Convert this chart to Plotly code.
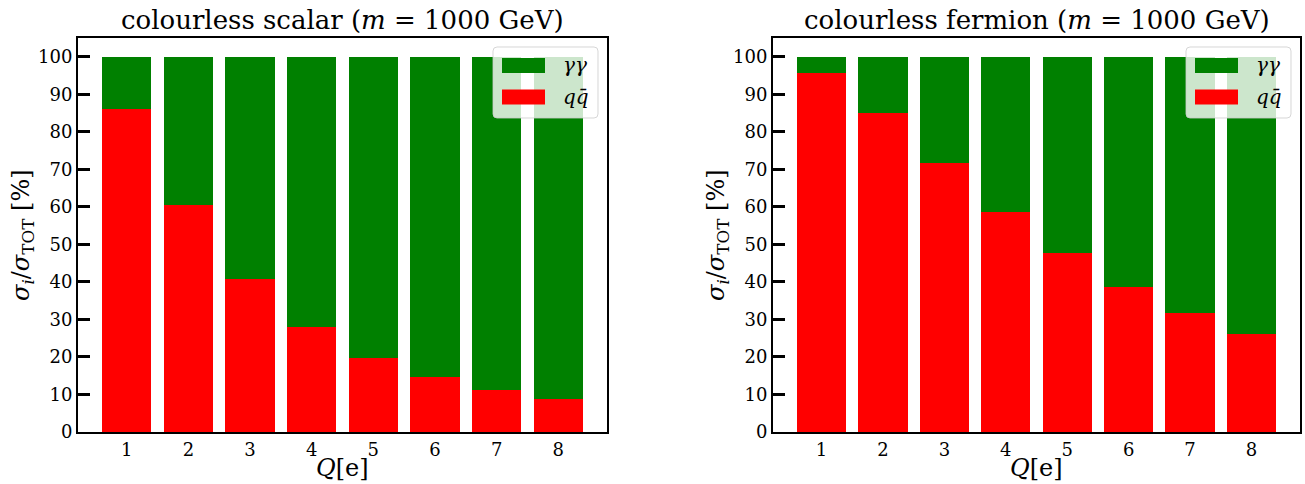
import plotly.graph_objects as go

# ---- data ----
charges = [1, 2, 3, 4, 5, 6, 7, 8]
tick_labels = ["1", "2", "3", "4", "5", "6", "7", "8"]
scalar_qq = [86.1, 60.6, 40.8, 28.0, 19.6, 14.7, 11.1, 8.8]
fermion_qq = [95.7, 85.1, 71.7, 58.6, 47.7, 38.7, 31.7, 26.0]
scalar_aa = [100 - v for v in scalar_qq]
fermion_aa = [100 - v for v in fermion_qq]
titles = ["colourless scalar (<i>m</i> = 1000 GeV)",
          "colourless fermion (<i>m</i> = 1000 GeV)"]
x_title = "<i>Q</i>[e]"
y_title = "<i>σ</i><sub><i>i</i></sub>/<i>σ</i><sub>TOT</sub> [%]"
legend_labels = ["<i>γγ</i>", "<i>qq̄</i>"]
y_ticks = list(range(0, 101, 10))

FONT = "DejaVu Serif"
GREEN = "#008000"
RED = "#FF0000"

W, H = 1305, 484
ax_top, ax_bot = 38, 432
panels = [(78, 607), (773, 1300)]

fig = go.Figure()

for i, (qq, aa) in enumerate([(scalar_qq, scalar_aa), (fermion_qq, fermion_aa)]):
    xa = "x" if i == 0 else "x2"
    ya = "y" if i == 0 else "y2"
    fig.add_trace(go.Bar(x=charges, y=qq, marker=dict(color=RED, line=dict(width=0)),
                         width=0.8, xaxis=xa, yaxis=ya, showlegend=False))
    fig.add_trace(go.Bar(x=charges, y=aa, marker=dict(color=GREEN, line=dict(width=0)),
                         width=0.8, xaxis=xa, yaxis=ya, showlegend=False))

axis_common = dict(showline=True, linecolor="black", linewidth=2, mirror=True,
                   showgrid=False, zeroline=False, automargin=False,
                   tickfont=dict(family=FONT, size=18, color="black"))

layout = dict(width=W, height=H, barmode="stack", bargap=0.2,
              paper_bgcolor="white", plot_bgcolor="white",
              margin=dict(l=0, r=0, t=0, b=0), showlegend=False,
              font=dict(family=FONT, color="black"))

annotations = []
shapes = []
for i, (x0p, x1p) in enumerate(panels):
    sfx = "" if i == 0 else "2"
    xd = "x" + sfx + " domain"
    yd = "y" + sfx + " domain"
    dom_x = [x0p / W, x1p / W]
    dom_y = [(H - ax_bot) / H, (H - ax_top) / H]
    aw = x1p - x0p
    ah = ax_bot - ax_top
    layout["xaxis" + sfx] = dict(axis_common, domain=dom_x, range=[0.21, 8.79],
                                 tickvals=charges, ticktext=tick_labels, ticks="",
                                 anchor="y" + sfx)
    layout["yaxis" + sfx] = dict(axis_common, domain=dom_y, range=[0, 105],
                                 tickvals=y_ticks, ticks="inside", ticklen=12, tickwidth=3,
                                 tickcolor="black", anchor="x" + sfx)
    # title
    annotations.append(dict(text=titles[i], xref=xd, yref=yd,
                            x=0.5, y=1.0, yshift=1, xanchor="center", yanchor="bottom",
                            showarrow=False, font=dict(family=FONT, size=26, color="black")))
    # axis titles
    annotations.append(dict(text=x_title, xref=xd, yref=yd, x=0.5, y=-(468 - ax_bot) / ah,
                            xanchor="center", yanchor="middle", showarrow=False,
                            font=dict(family=FONT, size=24, color="black")))
    annotations.append(dict(text=y_title, xref=xd, yref=yd, x=-56 / aw, y=0.5,
                            xanchor="center", yanchor="middle", textangle=-90, showarrow=False,
                            font=dict(family=FONT, size=24, color="black")))
    # legend box
    bx1 = 1 - 9 / aw
    bx0 = 1 - 114 / aw
    by1 = 1 - 9 / ah
    by0 = 1 - 80 / ah
    rx = 4 / aw
    ry = 4 / ah
    path = (f"M {bx0+rx},{by0} L {bx1-rx},{by0} Q {bx1},{by0} {bx1},{by0+ry} "
            f"L {bx1},{by1-ry} Q {bx1},{by1} {bx1-rx},{by1} L {bx0+rx},{by1} "
            f"Q {bx0},{by1} {bx0},{by1-ry} L {bx0},{by0+ry} Q {bx0},{by0} {bx0+rx},{by0} Z")
    shapes.append(dict(type="path", path=path, xref=xd, yref=yd,
                       fillcolor="rgba(255,255,255,0.8)", line=dict(color="rgba(204,204,204,0.8)", width=1),
                       layer="above"))
    for j, (col, lab) in enumerate([(GREEN, legend_labels[0]), (RED, legend_labels[1])]):
        cy = 27.5 + j * 31.5
        shapes.append(dict(type="rect", xref=xd, yref=yd,
                           x0=bx0 + 9 / aw, x1=bx0 + 52 / aw,
                           y0=1 - (cy + 7.5) / ah, y1=1 - (cy - 7.5) / ah,
                           fillcolor=col, line=dict(width=0), layer="above"))
        annotations.append(dict(text=lab, xref=xd, yref=yd,
                                x=bx0 + 68 / aw, y=1 - cy / ah, xanchor="left", yanchor="middle",
                                showarrow=False, font=dict(family=FONT, size=20, color="black")))

layout["annotations"] = annotations
layout["shapes"] = shapes
fig.update_layout(**layout)
fig.write_html("out.html", config={"displayModeBar": False},
               post_script="document.body.style.margin='0';document.body.style.overflow='hidden';")
